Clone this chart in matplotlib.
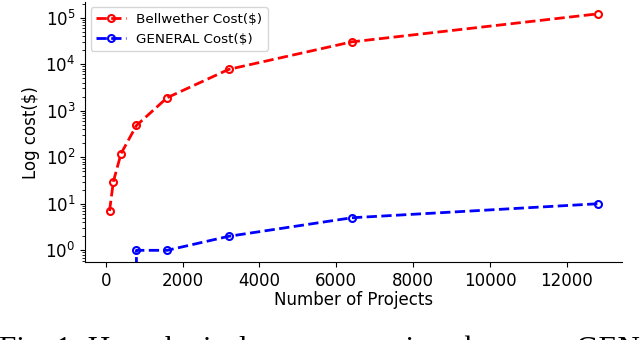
import matplotlib
matplotlib.use("Agg")
import matplotlib.pyplot as plt

projects = [100, 200, 400, 800, 1600, 3200, 6400, 12800]
bellwether_cost = [7, 30, 120, 480, 1900, 7700, 30000, 120000]
general_cost = [0, 0, 0, 1, 1, 2, 5, 10]

fig = plt.figure(figsize=(6.4, 3.4), dpi=100)
ax = fig.add_axes([0.133, 0.229, 0.839, 0.765])

ax.plot(projects, bellwether_cost, color="red", linestyle="--", linewidth=2,
        marker="o", markersize=5, markerfacecolor="none", markeredgewidth=1.5,
        label="Bellwether Cost($)")
ax.plot(projects, general_cost, color="blue", linestyle="--", linewidth=2,
        marker="o", markersize=5, markerfacecolor="none", markeredgewidth=1.5,
        label="GENERAL Cost($)")
ax.set_yscale("log", nonpositive="clip")

ax.spines["top"].set_visible(False)
ax.spines["right"].set_visible(False)
ax.tick_params(labelsize=12)
ax.set_xlabel("Number of Projects", fontsize=12, labelpad=1)
ax.set_ylabel("Log cost($)", fontsize=12)
ax.legend(loc="upper left", fontsize=9.7, handlelength=2.2, borderaxespad=0.4)

fig.text(-0.002, 0.013, "Fig. 1: Hypothetical cost comparison between GENERAL and Bellwether",
         family="Liberation Serif", fontsize=22.3, va="top", ha="left")

fig.savefig("out.png", dpi=100)
